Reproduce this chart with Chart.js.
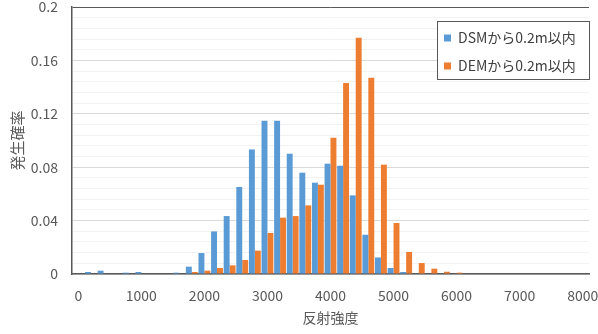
<!DOCTYPE html>
<html>
<head>
<meta charset="utf-8">
<script src="https://cdn.jsdelivr.net/npm/chart.js@4.4.0/dist/chart.umd.min.js"></script>
<style>
  html, body { margin: 0; padding: 0; background: #fff; }
  #wrap { width: 598px; height: 334px; }
</style>
</head>
<body>
<div id="wrap"><canvas id="chart" width="598" height="334"></canvas></div>
<script>
'use strict'

// bins of 200, 0 .. 8000
let bins = [],
    dsmProb = [
        0, 0.0015, 0.0025, 0, 0.001, 0.0015, 0, 0, 0.001, 0.0055,
        0.0157, 0.0319, 0.0434, 0.0652, 0.0933, 0.1148, 0.1148, 0.0901, 0.0759, 0.0684,
        0.0826, 0.0811, 0.0589, 0.0294, 0.0124, 0.0045, 0.0015, 0, 0, 0,
        0, 0, 0, 0, 0, 0, 0, 0, 0, 0, 0],
    demProb = [
        0, 0, 0, 0, 0, 0, 0, 0, 0, 0.0015,
        0.0025, 0.0045, 0.0065, 0.0105, 0.0175, 0.0307, 0.0422, 0.0434, 0.0514, 0.0669,
        0.1021, 0.1431, 0.177, 0.147, 0.0819, 0.0382, 0.0165, 0.0082, 0.004, 0.0017,
        0.001, 0, 0, 0, 0, 0, 0, 0, 0, 0, 0],
    seriesNames = ['DSMから0.2m以内', 'DEMから0.2m以内'],
    seriesColors = ['#5B9BD5', '#ED7D31']

for (let i = 0; i <= 40; i++) bins.push(String(i * 200))

const FONT = "'Noto Sans CJK JP', 'Noto Sans', sans-serif"
Chart.defaults.font.family = FONT
Chart.defaults.color = '#595959'

// legend box drawn inside the plot, like the excel one
let boxLegend = {
    id: 'boxLegend',
    afterDraw(chart) {
        let ctx = chart.ctx
        ctx.save()
        ctx.fillStyle = '#fff'
        ctx.fillRect(437.5, 21.5, 152, 58)
        ctx.strokeStyle = '#595959'
        ctx.lineWidth = 1
        ctx.strokeRect(437.5, 21.5, 152, 58)
        ctx.font = '14px ' + FONT
        ctx.textBaseline = 'middle'
        ctx.textAlign = 'left'
        let rows = [38, 66]
        chart.data.datasets.forEach((ds, i) => {
            ctx.fillStyle = ds.backgroundColor
            ctx.fillRect(444, rows[i] - 3.5, 7, 7)
            ctx.fillStyle = '#404040'
            ctx.fillText(ds.label, 458, rows[i])
        })
        ctx.restore()
    }
}

let data = {
    labels: bins,
    datasets: [{
        label: seriesNames[0],
        backgroundColor: seriesColors[0],
        data: dsmProb
    }, {
        label: seriesNames[1],
        backgroundColor: seriesColors[1],
        data: demProb
    }]
}

let config = {
    type: 'bar',
    data: data,
    plugins: [boxLegend],
    options: {
        responsive: false,
        animation: false,
        layout: { padding: { top: 7, right: 9, left: 0, bottom: 0 } },
        datasets: { bar: { categoryPercentage: 0.94, barPercentage: 1 } },
        plugins: { legend: { display: false }, tooltip: { enabled: false } },
        scales: {
            x: {
                grid: { display: false, drawTicks: false },
                border: { color: '#595959', width: 1.5 },
                ticks: {
                    autoSkip: false, maxRotation: 0, padding: 13,
                    font: { size: 14 },
                    callback: function (v, i) { return i % 5 === 0 ? bins[i] : '' }
                },
                title: { display: true, text: '反射強度', font: { size: 14 }, padding: { top: 0, bottom: 8 } },
                afterFit(scale) {
                    scale.height = 60
                    scale.paddingLeft = 0
                    scale.paddingRight = 0
                }
            },
            y: {
                min: 0, max: 0.2,
                border: { color: '#595959', width: 1.5 },
                grid: {
                    drawTicks: false,
                    color: (c) => {
                        let v = c.tick ? c.tick.value : 0
                        if (v > 0.199) return '#595959'
                        let k = v / 0.04
                        return Math.abs(k - Math.round(k)) < 1e-6 ? '#d9d9d9' : '#f2f2f2'
                    }
                },
                ticks: {
                    stepSize: 0.008, maxTicksLimit: 40, autoSkip: false, padding: 14,
                    font: { size: 14 },
                    callback: function (v) {
                        let k = v / 0.04
                        if (Math.abs(k - Math.round(k)) > 1e-6) return ''
                        return String(Math.round(v * 100) / 100)
                    }
                },
                title: { display: true, text: '発生確率', font: { size: 15 }, padding: { top: 8, bottom: 0 } },
                afterFit(scale) {
                    scale.width = 72
                    scale.paddingTop = 0
                    scale.paddingBottom = 0
                }
            }
        }
    }
}

let myChart = new Chart(document.getElementById('chart'), config)
</script>
</body>
</html>
